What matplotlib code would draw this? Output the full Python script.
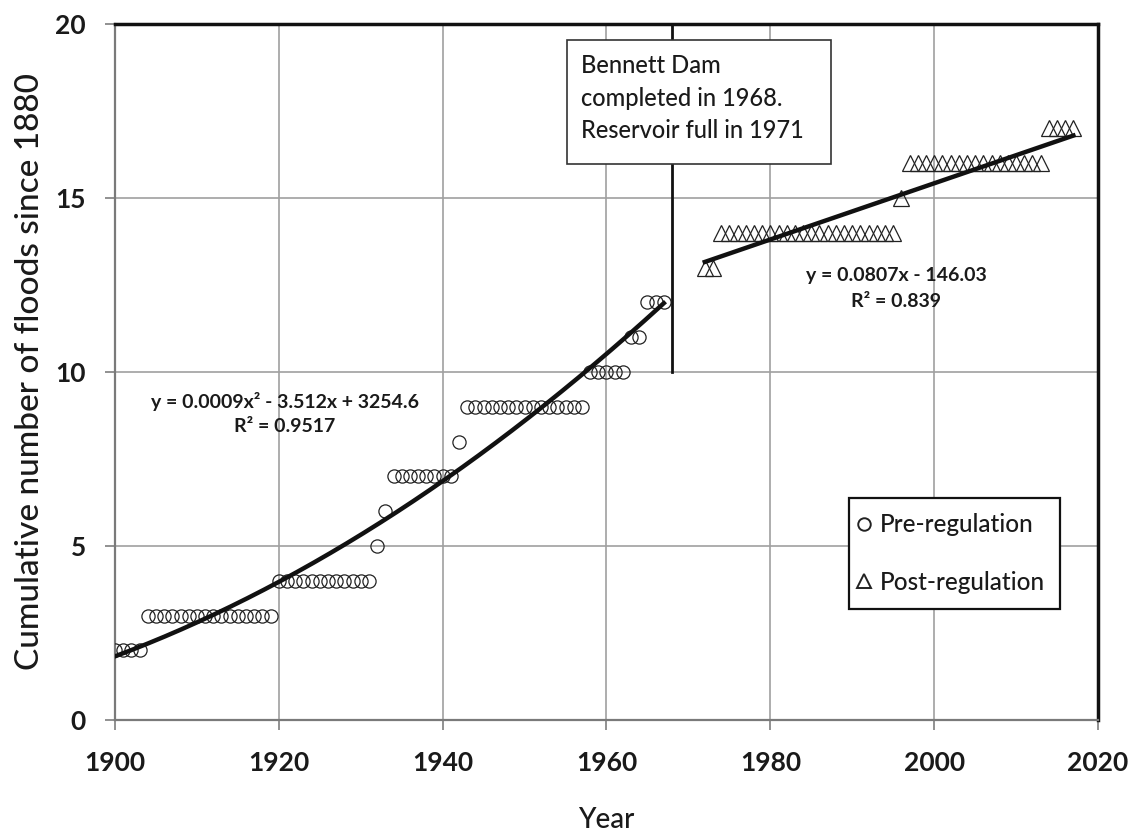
import numpy as np
import matplotlib
matplotlib.use("Agg")
import matplotlib.pyplot as plt
from matplotlib.lines import Line2D
from matplotlib.patches import Rectangle

plt.rcParams['font.family'] = ['Lato', 'DejaVu Sans']

# ---- data ----
pre_years = list(range(1900, 1968))
pre_counts = [2, 2, 2, 2,
              3, 3, 3, 3, 3, 3, 3, 3, 3, 3, 3, 3, 3, 3, 3, 3,
              4, 4, 4, 4, 4, 4, 4, 4, 4, 4, 4, 4,
              5,
              6,
              7, 7, 7, 7, 7, 7, 7, 7,
              8,
              9, 9, 9, 9, 9, 9, 9, 9, 9, 9, 9, 9, 9, 9, 9,
              10, 10, 10, 10, 10,
              11, 11,
              12, 12, 12]
post_years = list(range(1972, 2018))
post_counts = [13, 13,
               14, 14, 14, 14, 14, 14, 14, 14, 14, 14, 14, 14, 14, 14, 14, 14, 14, 14, 14, 14, 14, 14,
               15,
               16, 16, 16, 16, 16, 16, 16, 16, 16, 16, 16, 16, 16, 16, 16, 16, 16,
               17, 17, 17, 17]
dam_year = 1968
x_ticks = [1900, 1920, 1940, 1960, 1980, 2000, 2020]
y_ticks = [0, 5, 10, 15, 20]
pre_eq = "y = 0.0009x² - 3.512x + 3254.6"
pre_r2 = "R² = 0.9517"
post_eq = "y = 0.0807x - 146.03"
post_r2 = "R² = 0.839"
note_lines = ["Bennett Dam", "completed in 1968.", "Reservoir full in 1971"]

TXT = '#1a1a1a'
GRID = '#a0a0a0'

fig = plt.figure(figsize=(11.34, 8.34), dpi=100)
ax = fig.add_axes([115/1134, 1-720/834, 983/1134, 696/834])
ax.set_xlim(1900, 2020)
ax.set_ylim(0, 20)
ax.set_xticks(x_ticks)
ax.set_yticks(y_ticks)
ax.grid(True, color=GRID, lw=1.2, zorder=0)
ax.set_axisbelow(True)

# markers
ax.plot(pre_years, pre_counts, 'o', ms=9.5, mfc='none', mec='#222222', mew=0.9,
        zorder=3, label='Pre-regulation')
ax.plot(post_years, post_counts, '^', ms=11, mfc='none', mec='#222222', mew=0.9,
        zorder=3, label='Post-regulation')

# trend lines (fitted from the data)
px = np.array(pre_years, float)
pc = np.polyfit(px - 1900, pre_counts, 2)
xs = np.linspace(px.min(), px.max(), 200)
ax.plot(xs, np.polyval(pc, xs - 1900), color='#111111', lw=3.2, zorder=4)

qx = np.array(post_years, float)
qc = np.polyfit(qx, post_counts, 1)
xs2 = np.linspace(qx.min(), qx.max(), 50)
ax.plot(xs2, np.polyval(qc, xs2), color='#111111', lw=3.2, zorder=4)

# dam line
ax.plot([dam_year, dam_year], [10, 20], color='#111111', lw=2.0, zorder=4)

# annotation box
ax.add_patch(Rectangle((1955.2, 15.98), 1987.4 - 1955.2, 19.54 - 15.98,
                       fc='white', ec='#333333', lw=1.2, zorder=5))
for i, t in enumerate(note_lines):
    ax.text(1956.9, 18.80 - i * 0.935, t, ha='left', va='center', fontsize=17,
            fontweight='medium', color=TXT, zorder=6)

# equations
ax.text(1920.7, 9.14, pre_eq, ha='center', va='center', fontsize=14,
        fontweight='bold', color=TXT, zorder=6)
ax.text(1920.7, 8.42, pre_r2, ha='center', va='center', fontsize=14,
        fontweight='bold', color=TXT, zorder=6)
ax.text(1995.4, 12.76, post_eq, ha='center', va='center', fontsize=14,
        fontweight='bold', color=TXT, zorder=6)
ax.text(1995.4, 12.04, post_r2, ha='center', va='center', fontsize=14,
        fontweight='bold', color=TXT, zorder=6)

# legend
handles = [Line2D([], [], marker='o', ls='none', ms=9, mfc='none', mec='#222222', mew=1.4),
           Line2D([], [], marker='^', ls='none', ms=9.5, mfc='none', mec='#222222', mew=1.4)]
leg = ax.legend(handles, ['Pre-regulation', 'Post-regulation'], loc='lower left',
                bbox_to_anchor=((849 - 115) / 983, (720 - 609) / 696), borderaxespad=0,
                prop={'size': 17.5, 'weight': 'medium'},
                frameon=True, fancybox=False, framealpha=1, edgecolor='#111111',
                handlelength=0.0, handletextpad=0.65, borderpad=0.62, labelspacing=1.42)
leg.get_frame().set_linewidth(1.6)
leg.set_zorder(7)
for t in leg.get_texts():
    t.set_color(TXT)

# spines
for s in ['left', 'bottom']:
    ax.spines[s].set_color('#7a7a7a')
    ax.spines[s].set_linewidth(1.6)
for s in ['top', 'right']:
    ax.spines[s].set_color('#111111')
    ax.spines[s].set_linewidth(2.5)

ax.tick_params(direction='out', length=7, width=1.3, color='#888888',
               labelsize=19, labelcolor=TXT)
ax.tick_params(axis='x', pad=15)
ax.tick_params(axis='y', pad=14)
for lab in ax.get_xticklabels() + ax.get_yticklabels():
    lab.set_fontweight('bold')

ax.set_xlabel('Year', fontsize=20, fontweight='medium', color=TXT)
ax.xaxis.set_label_coords(0.5, (720 - 807) / 696)
ax.set_ylabel('Cumulative number of floods since 1880', fontsize=24,
              fontweight='medium', color=TXT)
ax.yaxis.set_label_coords((45 - 115) / 983, 0.5)

fig.savefig('out.png', dpi=100)
